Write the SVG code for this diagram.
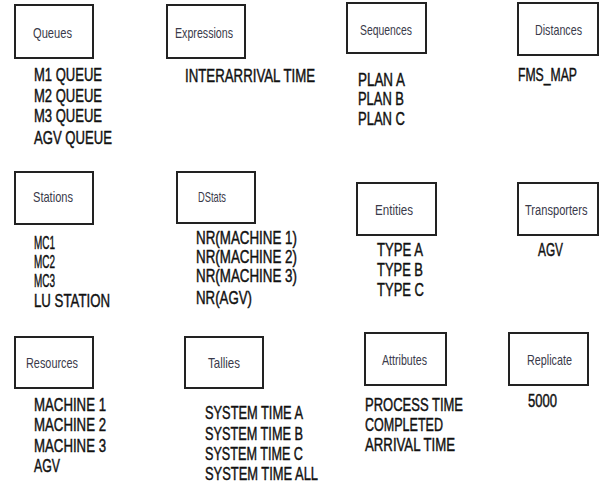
<svg xmlns="http://www.w3.org/2000/svg" width="602" height="485" viewBox="0 0 602 485">
<style>
.box{fill:#fff;stroke:#222;stroke-width:2}
.lbl{font-family:"Liberation Sans",Arial,sans-serif;font-size:14.5px;fill:#3a3a4a}
.it{font-family:"Liberation Sans",Arial,sans-serif;font-size:18.5px;fill:#111;stroke:#111;stroke-width:0.45}
</style>
<rect width="602" height="485" fill="#fff"/>
<g id="queues">
<rect class="box" x="15" y="5" width="78" height="53"/>
<text class="lbl" x="33" y="38" textLength="39" lengthAdjust="spacingAndGlyphs">Queues</text>
<text class="it" x="34" y="81" textLength="68" lengthAdjust="spacingAndGlyphs">M1 QUEUE</text>
<text class="it" x="34" y="102" textLength="68" lengthAdjust="spacingAndGlyphs">M2 QUEUE</text>
<text class="it" x="34" y="122" textLength="68" lengthAdjust="spacingAndGlyphs">M3 QUEUE</text>
<text class="it" x="34" y="144" textLength="78" lengthAdjust="spacingAndGlyphs">AGV QUEUE</text>
</g>
<g id="expressions">
<rect class="box" x="167" y="5" width="78" height="53"/>
<text class="lbl" x="175" y="38" textLength="58" lengthAdjust="spacingAndGlyphs">Expressions</text>
<text class="it" transform="translate(185,82) scale(0.717,1)">INTERARRIVAL TIME</text>
</g>
<g id="sequences">
<rect class="box" x="347" y="3" width="79" height="50"/>
<text class="lbl" x="360" y="35" textLength="52" lengthAdjust="spacingAndGlyphs">Sequences</text>
<text class="it" x="358" y="86" textLength="47" lengthAdjust="spacingAndGlyphs">PLAN A</text>
<text class="it" x="358" y="105" textLength="46" lengthAdjust="spacingAndGlyphs">PLAN B</text>
<text class="it" x="358" y="125" textLength="47" lengthAdjust="spacingAndGlyphs">PLAN C</text>
</g>
<g id="distances">
<rect class="box" x="518" y="3" width="80" height="52"/>
<text class="lbl" x="535" y="35" textLength="47" lengthAdjust="spacingAndGlyphs">Distances</text>
<text class="it" transform="translate(518,81) scale(0.66,1)">FMS_MAP</text>
</g>
<g id="stations">
<rect class="box" x="15" y="172" width="78" height="52"/>
<text class="lbl" x="33" y="202" textLength="40" lengthAdjust="spacingAndGlyphs">Stations</text>
<text class="it" x="34" y="249" textLength="21" lengthAdjust="spacingAndGlyphs">MC1</text>
<text class="it" x="34" y="268" textLength="21" lengthAdjust="spacingAndGlyphs">MC2</text>
<text class="it" x="34" y="287" textLength="21" lengthAdjust="spacingAndGlyphs">MC3</text>
<text class="it" x="34" y="307" textLength="76" lengthAdjust="spacingAndGlyphs">LU STATION</text>
</g>
<g id="dstats">
<rect class="box" x="177" y="172" width="78" height="51"/>
<text class="lbl" x="198" y="202" textLength="28" lengthAdjust="spacingAndGlyphs">DStats</text>
<text class="it" x="196" y="244" textLength="101" lengthAdjust="spacingAndGlyphs">NR(MACHINE 1)</text>
<text class="it" x="196" y="263" textLength="101" lengthAdjust="spacingAndGlyphs">NR(MACHINE 2)</text>
<text class="it" x="196" y="282" textLength="101" lengthAdjust="spacingAndGlyphs">NR(MACHINE 3)</text>
<text class="it" x="196" y="304" textLength="56" lengthAdjust="spacingAndGlyphs">NR(AGV)</text>
</g>
<g id="entities">
<rect class="box" x="357" y="183" width="79" height="52"/>
<text class="lbl" x="375" y="215" textLength="38" lengthAdjust="spacingAndGlyphs">Entities</text>
<text class="it" x="377" y="256" textLength="46" lengthAdjust="spacingAndGlyphs">TYPE A</text>
<text class="it" x="377" y="276" textLength="46" lengthAdjust="spacingAndGlyphs">TYPE B</text>
<text class="it" x="377" y="296" textLength="47" lengthAdjust="spacingAndGlyphs">TYPE C</text>
</g>
<g id="transporters">
<rect class="box" x="518" y="183" width="80" height="52"/>
<text class="lbl" transform="translate(525,215) scale(0.766,1)">Transporters</text>
<text class="it" x="538" y="256" textLength="25" lengthAdjust="spacingAndGlyphs">AGV</text>
</g>
<g id="resources">
<rect class="box" x="15" y="337" width="78" height="51"/>
<text class="lbl" x="26" y="368" textLength="52" lengthAdjust="spacingAndGlyphs">Resources</text>
<text class="it" x="34" y="411" textLength="72" lengthAdjust="spacingAndGlyphs">MACHINE 1</text>
<text class="it" x="34" y="431" textLength="72" lengthAdjust="spacingAndGlyphs">MACHINE 2</text>
<text class="it" x="34" y="452" textLength="72" lengthAdjust="spacingAndGlyphs">MACHINE 3</text>
<text class="it" x="34" y="472" textLength="26" lengthAdjust="spacingAndGlyphs">AGV</text>
</g>
<g id="tallies">
<rect class="box" x="185" y="337" width="78" height="51"/>
<text class="lbl" x="208" y="368" textLength="32" lengthAdjust="spacingAndGlyphs">Tallies</text>
<text class="it" x="205" y="419" textLength="98" lengthAdjust="spacingAndGlyphs">SYSTEM TIME A</text>
<text class="it" x="205" y="440" textLength="98" lengthAdjust="spacingAndGlyphs">SYSTEM TIME B</text>
<text class="it" x="205" y="460" textLength="98" lengthAdjust="spacingAndGlyphs">SYSTEM TIME C</text>
<text class="it" x="205" y="480" textLength="113" lengthAdjust="spacingAndGlyphs">SYSTEM TIME ALL</text>
</g>
<g id="attributes">
<rect class="box" x="365" y="333" width="81" height="52"/>
<text class="lbl" x="382" y="365" textLength="45" lengthAdjust="spacingAndGlyphs">Attributes</text>
<text class="it" x="365" y="411" textLength="98" lengthAdjust="spacingAndGlyphs">PROCESS TIME</text>
<text class="it" x="365" y="431" textLength="78" lengthAdjust="spacingAndGlyphs">COMPLETED</text>
<text class="it" x="365" y="451" textLength="90" lengthAdjust="spacingAndGlyphs">ARRIVAL TIME</text>
</g>
<g id="replicate">
<rect class="box" x="509" y="333" width="79" height="52"/>
<text class="lbl" x="527" y="365" textLength="45" lengthAdjust="spacingAndGlyphs">Replicate</text>
<text class="it" x="528" y="407" textLength="29" lengthAdjust="spacingAndGlyphs">5000</text>
</g>
</svg>
